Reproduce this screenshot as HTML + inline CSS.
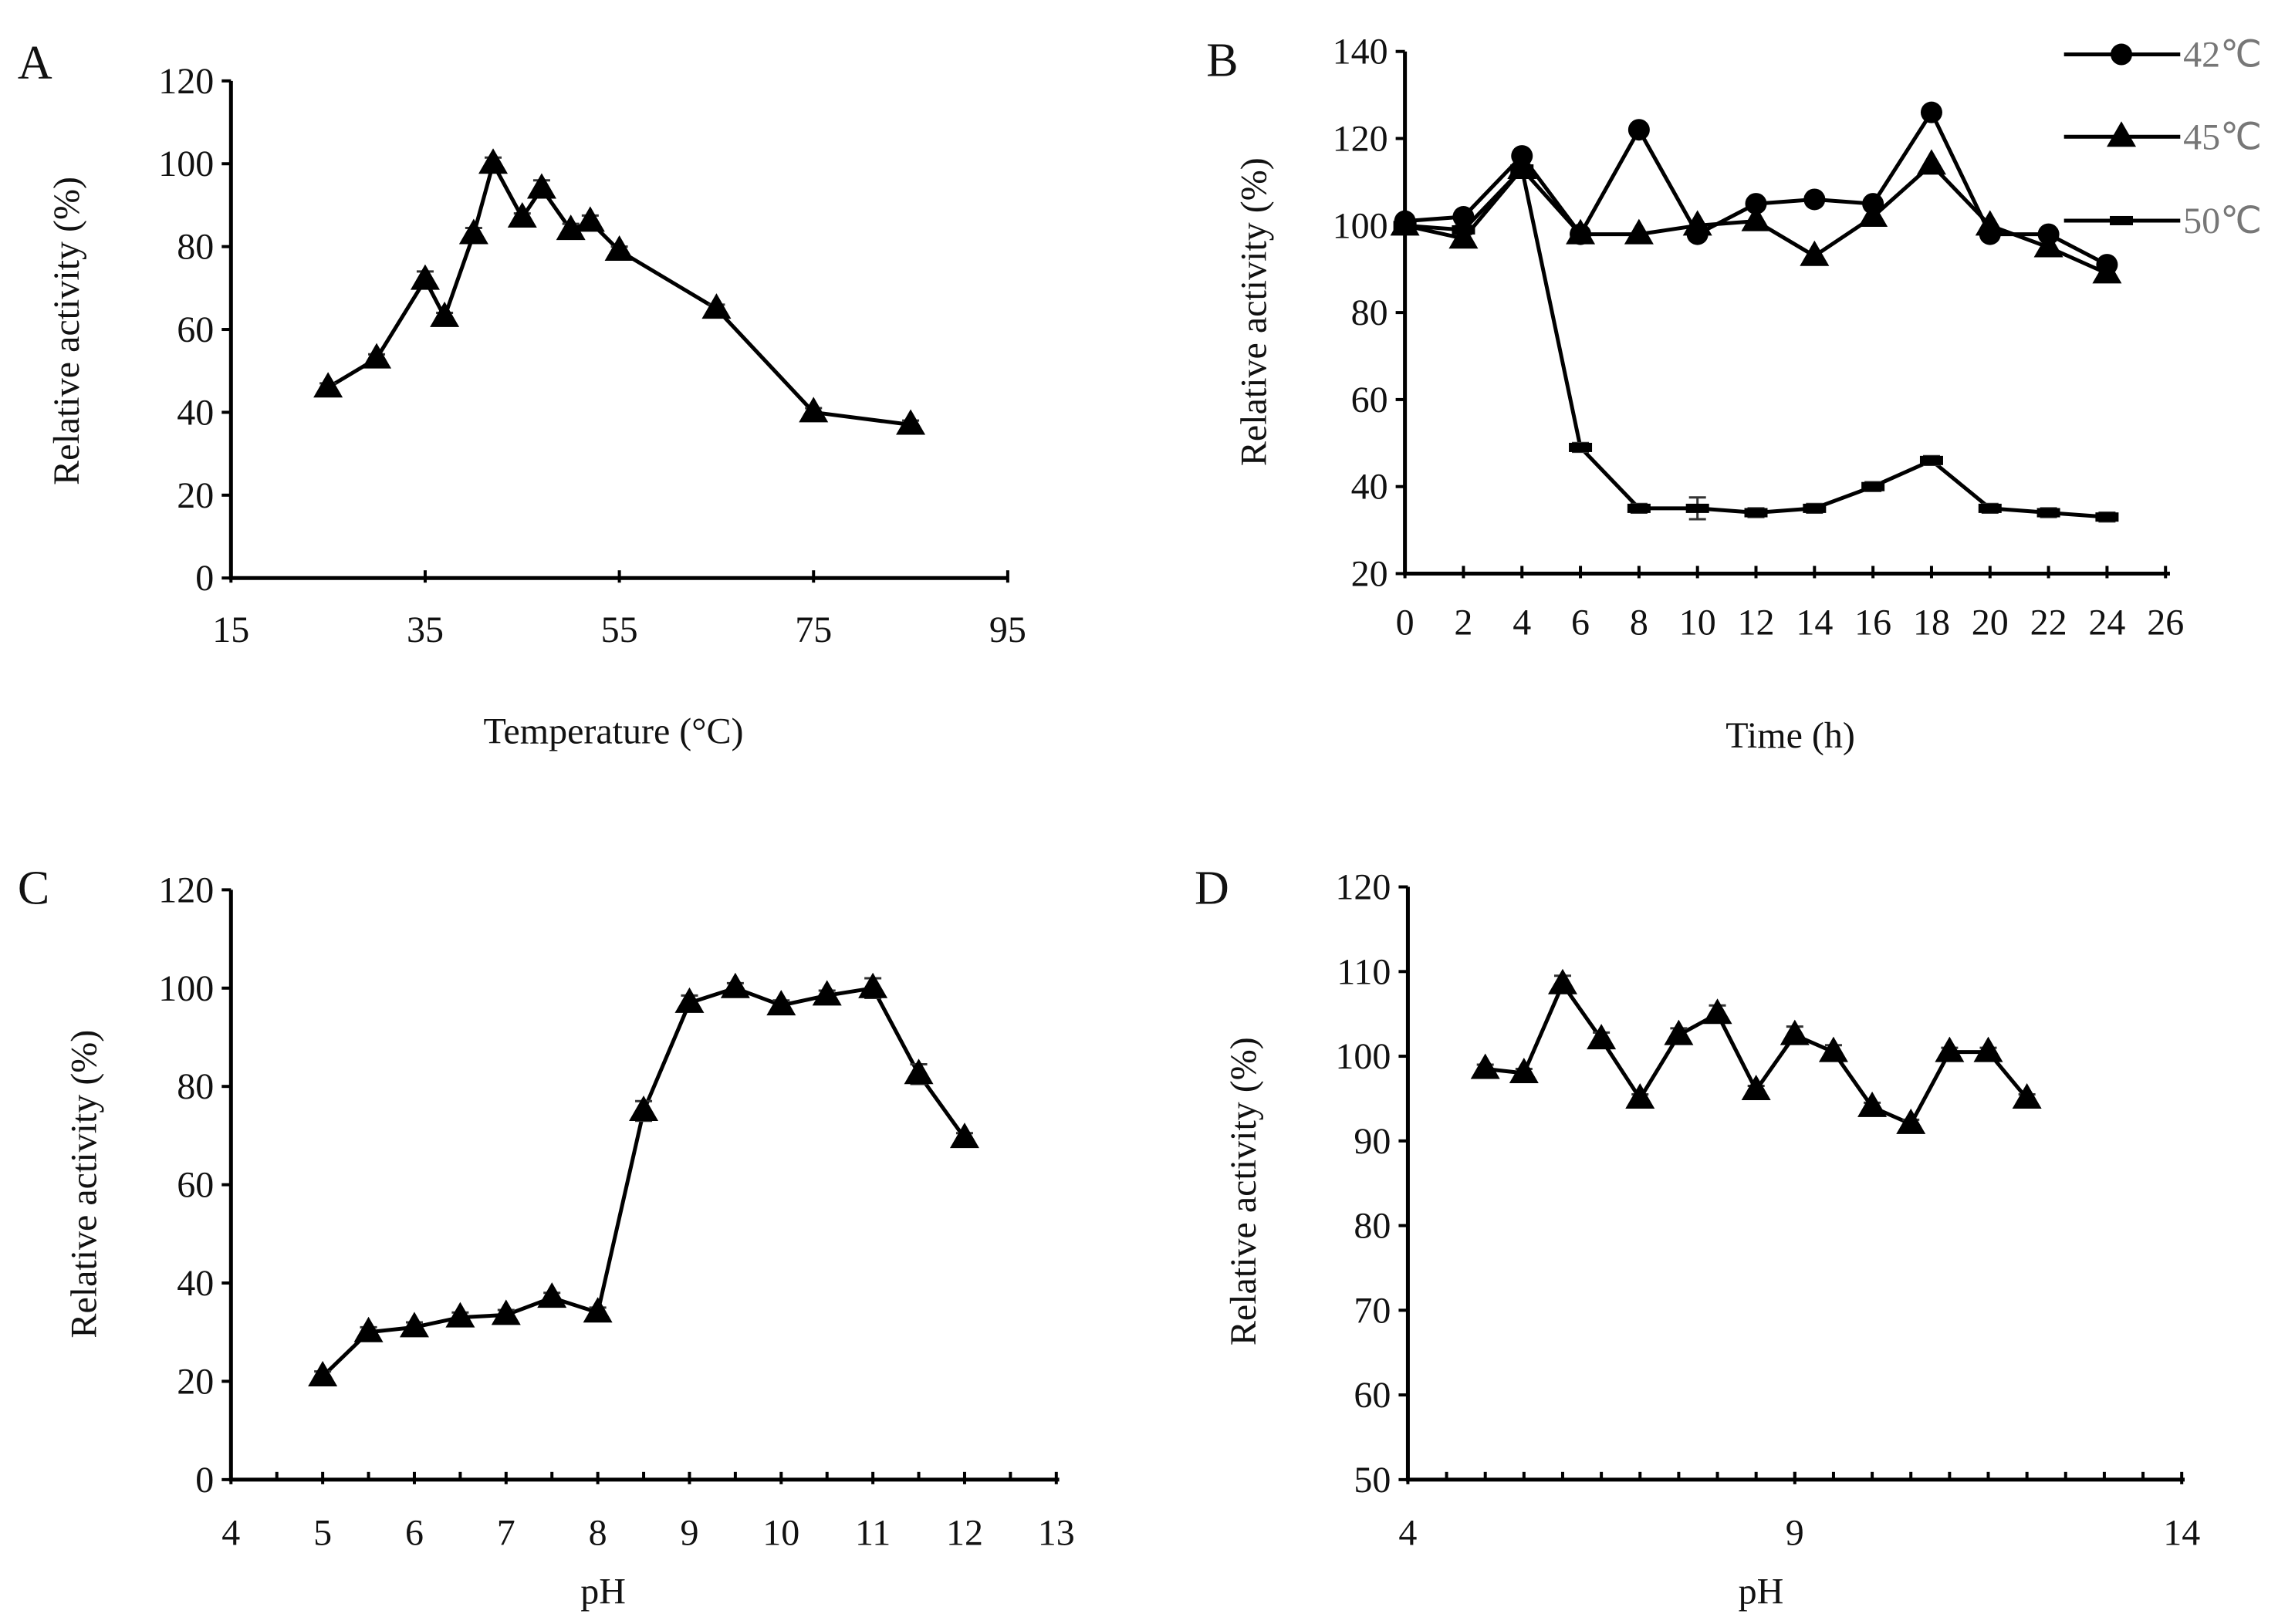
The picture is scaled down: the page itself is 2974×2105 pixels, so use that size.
<!DOCTYPE html>
<html><head><meta charset="utf-8"><style>
html,body{margin:0;padding:0;background:#fff;}
svg{display:block;}
text{font-family:"Liberation Serif",serif;fill:#111;}
</style></head><body>
<svg id="fig" width="2974" height="2105" viewBox="0 0 2974 2105" xmlns="http://www.w3.org/2000/svg"></svg>
<script>
// Panel A data
const aTemps=[25,30,35,37,40,42,45,47,50,52,55,65,75,85];
const aAct=[46,53,72,63,83,100,87,94,84,86,79,65,40,37];
const aErr=[1,1,2,1,1.5,1.5,1,2,1.5,1.5,1,1,1,1];
const aXTicks=[15,35,55,75,95];
const aYTicks=[0,20,40,60,80,100,120];
// Panel B data
const bTimes=[0,2,4,6,8,10,12,14,16,18,20,22,24];
const b42=[101,102,116,98,122,98,105,106,105,126,98,98,91];
const b45=[100,97,113,98,98,100,101,93,102,114,100,95,89];
const b50=[100,99,113,49,35,35,34,35,40,46,35,34,33];
const bErr50=[1,1,1,1,1,2.5,1,1,1,1,1,1,1];
const bXTicks=[0,2,4,6,8,10,12,14,16,18,20,22,24,26];
const bYTicks=[20,40,60,80,100,120,140];
const bLegend=["42℃","45℃","50℃"];
// Panel C data
const cPH=[5,5.5,6,6.5,7,7.5,8,8.5,9,9.5,10,10.5,11,11.5,12];
const cAct=[21,30,31,33,33.5,37,34,75,97,100,96.5,98.5,100,82.5,69.5];
const cErr=[1,1,1,1,1,1,1,2,1.5,1,1,1,2,2,1];
const cXTicks=[4,5,6,7,8,9,10,11,12,13];
const cYTicks=[0,20,40,60,80,100,120];
// Panel D data
const dPH=[5,5.5,6,6.5,7,7.5,8,8.5,9,9.5,10,10.5,11,11.5,12];
const dAct=[98.5,98,108.5,102,95,102.5,105,96,102.5,100.5,94,92,100.5,100.5,95];
const dErr=[0.5,0.5,1,0.8,0.5,0.8,1,0.5,1,0.8,0.5,0.5,0.5,0.5,0.5];
const dXTicks=[4,9,14];
const dYTicks=[50,60,70,80,90,100,110,120];

const S=1.9064;
const svg=document.getElementById('fig');
const NS='http://www.w3.org/2000/svg';
function mk(tag,attrs,parent){const e=document.createElementNS(NS,tag);for(const k in attrs)e.setAttribute(k,attrs[k]);(parent||svg).appendChild(e);return e;}

function panel(cfg){
  const g=mk('g',{});
  
  
  const X0=cfg.ax*S, Y0=cfg.ay0*S, Y1=cfg.ay1*S, XR=cfg.axr*S;
  const sx=v=>X0+(v-cfg.xmin)/(cfg.xmax-cfg.xmin)*(cfg.xr*S-X0);
  const sy=v=>Y0-(v-cfg.ymin)/(cfg.ymax-cfg.ymin)*(Y0-Y1);
  cfg.sx=sx;cfg.sy=sy;
  const ax=mk('path',{d:`M${X0},${Y1} L${X0},${Y0} L${XR},${Y0}`,fill:'none',stroke:'#000','stroke-width':5},g);
  
  
  cfg.yticks.forEach(v=>{
    mk('line',{x1:X0-12,x2:X0,y1:sy(v),y2:sy(v),stroke:'#000','stroke-width':4},g);
    const t=mk('text',{x:X0-22,y:sy(v)+16,'text-anchor':'end','font-size':48},g);
    t.textContent=v;
    
    
  });
  (cfg.minor||[]).forEach(v=>{
    mk('line',{x1:sx(v),x2:sx(v),y1:Y0-10,y2:Y0,stroke:'#000','stroke-width':4},g);
  });
  cfg.xticks.forEach(v=>{
    mk('line',{x1:sx(v),x2:sx(v),y1:Y0-10,y2:Y0+6,stroke:'#000','stroke-width':4},g);
    const t=mk('text',{x:sx(v),y:cfg.xly*S+16,'text-anchor':'middle','font-size':48},g);
    t.textContent=v;
    
    
  });
  const xt=mk('text',{x:cfg.xtx*S,y:cfg.xty*S+16,'text-anchor':'middle','font-size':48},g);
  xt.textContent=cfg.xtitle;
  
  
  const yt=mk('text',{x:0,y:0,'text-anchor':'middle','font-size':48,transform:`translate(${cfg.ytx*S+16},${cfg.yty*S}) rotate(-90)`},g);
  yt.textContent='Relative activity (%)';
  
  
  const lt=mk('text',{x:cfg.lx*S,y:cfg.ly*S+22,'font-size':62},g);
  lt.textContent=cfg.letter;
  
  
  return g;
}
function series(cfg,g,xs,ys,errs,marker,name){
  const sx=cfg.sx,sy=cfg.sy;
  let d='';
  xs.forEach((x,i)=>{d+=(i?'L':'M')+sx(x)+','+sy(ys[i]);});
  const p=mk('path',{d:d,fill:'none',stroke:'#000','stroke-width':5,'stroke-linejoin':'round'},g);
  
  
  xs.forEach((x,i)=>{
    const cx=sx(x),cy=sy(ys[i]);
    if(errs){const e=errs[i];const yt=sy(ys[i]+e),yb=sy(ys[i]-e);
      mk('path',{d:`M${cx},${yt}L${cx},${yb}M${cx-11},${yt}L${cx+11},${yt}M${cx-11},${yb}L${cx+11},${yb}`,stroke:'#333','stroke-width':3,fill:'none'},g);}
    let m;
    if(marker==='tri') m=mk('path',{d:`M${cx},${cy-20}L${cx+19},${cy+13}L${cx-19},${cy+13}Z`,fill:'#000'},g);
    else if(marker==='circ') m=mk('circle',{cx:cx,cy:cy,r:14,fill:'#000'},g);
    else m=mk('rect',{x:cx-15,y:cy-6,width:30,height:12,fill:'#000'},g);
    
    
  });
}

// A
const cA={name:'panel-a',ax:157,ay0:393,ay1:55,axr:685,xmin:15,xmax:95,xr:685,ymin:0,ymax:120,
  xticks:aXTicks,yticks:aYTicks,xly:428,xtitle:'Temperature (°C)',xtx:417,xty:497,ytx:45,yty:225,letter:'A',lx:12,ly:42};
const gA=panel(cA);
series(cA,gA,aTemps,aAct,aErr,'tri','temperature-series');

// B
const cB={name:'panel-b',ax:955,ay0:390,ay1:35,axr:1475,xmin:0,xmax:26,xr:1472,ymin:20,ymax:140,
  xticks:bXTicks,yticks:bYTicks,xly:423,xtitle:'Time (h)',xtx:1217,xty:500,ytx:852,yty:212,letter:'B',lx:820,ly:40};
const gB=panel(cB);
series(cB,gB,bTimes,b50,bErr50,'sq','series-50c');
series(cB,gB,bTimes,b45,null,'tri','series-45c');
series(cB,gB,bTimes,b42,null,'circ','series-42c');
const legY=[37,93,150],legM=['circ','tri','sq'];
bLegend.forEach((lab,i)=>{
  const y=legY[i]*S;
  const lg=mk('g',{},gB);
  
  
  mk('line',{x1:1403*S,x2:1482*S,y1:y,y2:y,stroke:'#000','stroke-width':5},lg);
  const cx=1442*S;
  if(legM[i]==='circ') mk('circle',{cx:cx,cy:y,r:14,fill:'#000'},lg);
  else if(legM[i]==='tri') mk('path',{d:`M${cx},${y-20}L${cx+19},${y+13}L${cx-19},${y+13}Z`,fill:'#000'},lg);
  else mk('rect',{x:cx-15,y:y-6,width:30,height:12,fill:'#000'},lg);
  const t=mk('text',{x:1484*S,y:y+16,'font-size':48,style:'fill:#777'},lg);
  t.textContent=lab;
});

// C
const cC={name:'panel-c',ax:157,ay0:1006,ay1:605,axr:720,xmin:4,xmax:13,xr:718,ymin:0,ymax:120,
  xticks:cXTicks,yticks:cYTicks,minor:[4.5,5.5,6.5,7.5,8.5,9.5,10.5,11.5,12.5],xly:1042,xtitle:'pH',xtx:410,xty:1082,ytx:57,yty:805,letter:'C',lx:12,ly:603};
const gC=panel(cC);
series(cC,gC,cPH,cAct,cErr,'tri','ph-activity-series');

// D
const dMinor=[];for(let v=4.5;v<14;v+=0.5)dMinor.push(v);
const cD={name:'panel-d',ax:957,ay0:1006,ay1:603,axr:1485,xmin:4,xmax:14,xr:1483,ymin:50,ymax:120,
  xticks:dXTicks,yticks:dYTicks,minor:dMinor,xly:1042,xtitle:'pH',xtx:1197,xty:1082,ytx:845,yty:810,letter:'D',lx:812,ly:603};
const gD=panel(cD);
series(cD,gD,dPH,dAct,dErr,'tri','ph-stability-series');
</script>
</body></html>
